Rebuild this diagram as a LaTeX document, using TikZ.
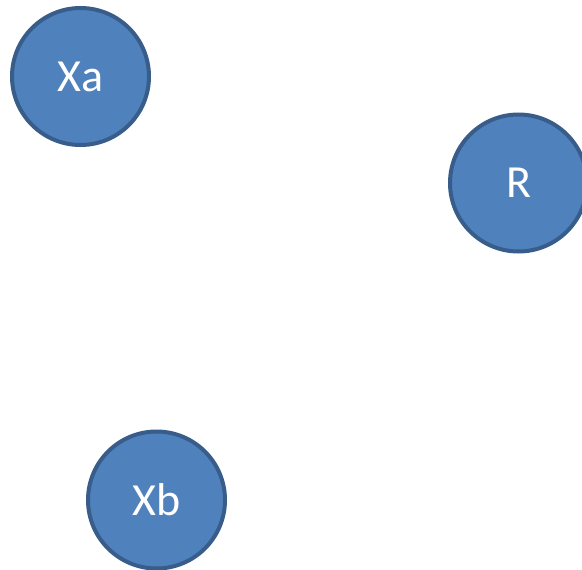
\documentclass[tikz,border=0pt]{standalone}
\usepackage{fontspec}
\setmainfont{Carlito}
\definecolor{nodefill}{HTML}{4F81BD}
\definecolor{nodeedge}{HTML}{385D8A}
\begin{document}
\begin{tikzpicture}[x=1pt,y=-1pt,
  var/.style={circle,fill=nodefill,draw=nodeedge,line width=4pt,minimum size=137pt,inner sep=0pt,text=white,font=\fontsize{46}{50}\selectfont}]
\useasboundingbox (0,0) rectangle (582,570);
\node[var] (xa) at (80.5,76.5) {Xa};
\node[var] (r) at (518.5,183) {R};
\node[var] (xb) at (156.5,500) {Xb};
\end{tikzpicture}
\end{document}
